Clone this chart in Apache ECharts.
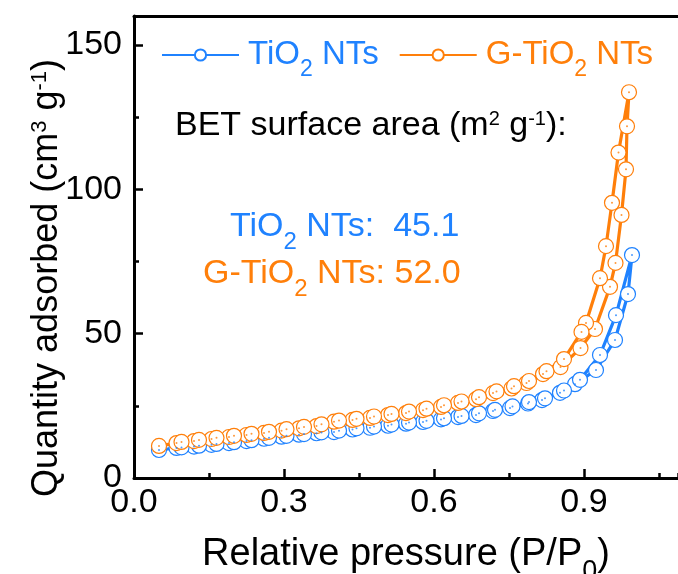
<!DOCTYPE html>
<html>
<head>
<meta charset="utf-8">
<script src="https://cdn.jsdelivr.net/npm/echarts@6/dist/echarts.min.js"></script>
<style>
html,body{margin:0;padding:0;background:#fff;}
#chart{width:678px;height:574px;}
</style>
</head>
<body>
<div id="chart"></div>
<script>
// ---- data (relative pressure P/P0, quantity adsorbed cm3/g) ----
var tio2AdsP = [0.05,0.085,0.12,0.155,0.19,0.225,0.26,0.295,0.33,0.365,0.40,0.437,0.472,0.508,0.544,0.578,0.614,0.648,0.684,0.718,0.752,0.788,0.816,0.852,0.882,0.924,0.962,0.988,0.996];
var tio2AdsV = [9.7,10.4,10.9,11.5,12.1,12.8,13.6,14.3,15.0,15.5,15.9,16.8,17.4,18.1,18.8,19.4,20.3,21.1,21.8,23.2,24.2,25.8,27.0,29.5,32.5,37.4,47.8,63.7,77.2];
var tio2DesP = [0.964,0.932,0.892,0.86,0.822,0.79,0.757,0.722,0.69,0.655,0.62,0.585,0.55,0.515,0.48,0.445,0.41,0.375,0.34,0.305,0.27,0.235,0.2,0.165,0.13,0.095];
var tio2DesV = [56.4,42.6,34.0,30.3,27.6,26.3,24.8,23.6,22.4,21.5,20.7,19.8,19.2,18.5,17.8,17.2,16.4,15.8,15.2,14.6,13.9,13.1,12.4,11.8,11.2,10.6];

var gAdsP = [0.05,0.085,0.12,0.155,0.19,0.225,0.26,0.295,0.33,0.365,0.40,0.437,0.472,0.508,0.544,0.578,0.614,0.648,0.684,0.718,0.755,0.785,0.818,0.853,0.893,0.922,0.952,0.963,0.975,0.984,0.986,0.99];
var gAdsV = [11.1,12.1,12.8,13.5,14.2,14.9,15.6,16.4,17.2,18.0,19.5,20.1,20.8,21.8,22.5,23.5,24.6,26.0,27.3,29.4,31.0,32.9,36.0,38.4,45.0,51.6,66.2,74.5,91.1,106.9,121.8,133.6];
var gDesP = [0.969,0.956,0.944,0.932,0.904,0.895,0.86,0.825,0.79,0.76,0.725,0.69,0.655,0.62,0.585,0.55,0.515,0.48,0.445,0.41,0.375,0.34,0.305,0.27,0.235,0.2,0.165,0.13,0.095];
var gDesV = [112.7,95.3,80.3,69.2,53.7,50.6,41.2,37.0,33.6,31.8,30.0,28.0,26.5,25.2,24.0,23.0,22.2,21.3,20.5,19.9,18.6,17.7,16.9,16.0,15.3,14.6,13.9,13.2,12.5];

var seriesNames = ['TiO2 NTs', 'G-TiO2 NTs'];
var xTicks = [0, 0.3, 0.6, 0.9];
var yTicks = [0, 50, 100, 150];
var betLabel = 'BET surface area';
var betValues = ['45.1', '52.0'];

var BLUE = '#1F82FF';
var ORANGE = '#FF7F0A';
var FONT = '"Liberation Sans", Arial, sans-serif';

function pairs(ps, vs) { return ps.map(function (p, i) { return [p, vs[i]]; }); }
var tio2Data = pairs(tio2AdsP, tio2AdsV).concat(pairs(tio2DesP, tio2DesV));
var gData = pairs(gAdsP, gAdsV).concat(pairs(gDesP, gDesV));

// rich styles; 'color' for echarts components, 'fill' for zrender graphics
// sub/sup shifted with asymmetric padding (middle-aligned token moves by padding/2)
function richSet(color, size, useFill) {
  var ck = useFill ? 'fill' : 'color';
  var r = {
    a: {fontSize: size, fontFamily: FONT, lineHeight: 42},
    p: {fontSize: size, fontFamily: FONT, lineHeight: 42, padding: [0, 0, 0, 4]},
    sub: {fontSize: Math.round(size * 0.7), fontFamily: FONT, lineHeight: 10,
          padding: [Math.round(size * 0.88), 0, 0, 0]},
    sup: {fontSize: Math.round(size * 0.6), fontFamily: FONT, lineHeight: 10,
          padding: [0, 0, Math.round(size * 0.42), 0]}
  };
  for (var k in r) r[k][ck] = color;
  return r;
}
function mergeRich() {
  var out = {};
  for (var i = 0; i < arguments.length; i++) {
    var prefix = arguments[i][0], set = arguments[i][1];
    for (var k in set) out[prefix + k] = set[k];
  }
  return out;
}

var chart = echarts.init(document.getElementById('chart'), null, {renderer: 'canvas'});

function lineSeries(name, color, data) {
  return {
    name: name, type: 'line', data: data,
    symbol: 'circle', symbolSize: 15, showSymbol: true,
    color: color,
    lineStyle: {color: color, width: 3.2},
    itemStyle: {color: '#fff', borderColor: color, borderWidth: 1.2},
    z: 3
  };
}
function dotSeries(name, color, data) {
  return {
    name: name + ' dot', type: 'scatter', data: data,
    symbol: 'circle', symbolSize: 2, silent: true,
    itemStyle: {color: color, opacity: 0.8}, z: 4
  };
}

var X_MAX = 1.088;
var Y_MAX = 160;

var option = {
  animation: false,
  backgroundColor: '#fff',
  grid: {left: 134, top: 16, right: 0, bottom: 96, show: false, containLabel: false, outerBoundsMode: 'none'},
  legend: {
    left: 161, top: 29, padding: 0,
    itemWidth: 77, itemHeight: 14, itemGap: 20,
    data: seriesNames,
    formatter: function (name) {
      if (name === seriesNames[0]) return '{bp|TiO}{bsub|2}{ba| NTs}';
      return '{op|G-TiO}{osub|2}{oa| NTs}';
    },
    textStyle: {
      rich: mergeRich(['b', richSet(BLUE, 33)], ['o', richSet(ORANGE, 33)])
    }
  },
  xAxis: [{
    type: 'value', min: 0, max: X_MAX, interval: 0.3,
    name: '{a|Relative pressure (P/P}{sub|0}{a|)}',
    nameLocation: 'middle', nameGap: 41,
    nameTextStyle: {rich: richSet('#000', 38)},
    axisLine: {show: true, lineStyle: {color: '#000', width: 3}},
    axisTick: {show: true, inside: true, length: 9, lineStyle: {color: '#000', width: 2.5}},
    axisLabel: {
      show: true, margin: 8, color: '#000', fontSize: 34, fontFamily: FONT, showMaxLabel: false,
      formatter: function (v) { return xTicks.indexOf(Math.round(v * 10) / 10) >= 0 ? v.toFixed(1) : ''; }
    },
    splitLine: {show: false}
  }, {
    type: 'value', min: 0, max: X_MAX, interval: 0.15, position: 'bottom',
    axisLine: {show: false},
    axisTick: {show: true, inside: true, length: 5, lineStyle: {color: '#000', width: 2.5}},
    axisLabel: {show: false},
    splitLine: {show: false}
  }, {
    type: 'value', min: 0, max: X_MAX, position: 'top',
    axisLine: {show: true, lineStyle: {color: '#000', width: 3}},
    axisTick: {show: false},
    axisLabel: {show: false},
    splitLine: {show: false}
  }],
  yAxis: [{
    type: 'value', min: 0, max: Y_MAX, interval: 50,
    axisLine: {show: true, lineStyle: {color: '#000', width: 3}},
    axisTick: {show: true, inside: true, length: 9, lineStyle: {color: '#000', width: 2.5}},
    axisLabel: {
      show: true, margin: 12, color: '#000', fontSize: 34, fontFamily: FONT, showMaxLabel: false,
      formatter: function (v) { return yTicks.indexOf(v) >= 0 ? String(v) : ''; }
    },
    splitLine: {show: false}
  }, {
    type: 'value', min: 0, max: Y_MAX, interval: 25, position: 'left',
    axisLine: {show: false},
    axisTick: {show: true, inside: true, length: 5, lineStyle: {color: '#000', width: 2.5}},
    axisLabel: {show: false},
    splitLine: {show: false}
  }],
  graphic: [
    {type: 'text', x: 47, y: 278, rotation: Math.PI / 2, z: 10, style: {
      text: '{a|Quantity adsorbed (cm}{sup|3}{a| g}{sup|-1}{a|)}',
      rich: richSet('#000', 36, true), align: 'center', verticalAlign: 'middle'
    }},
    {type: 'text', x: 175, y: 126, z: 10, style: {
      text: '{a|' + betLabel + ' (m}{sup|2}{a| g}{sup|-1}{a|):}',
      rich: richSet('#000', 34, true), align: 'left', verticalAlign: 'middle'
    }},
    {type: 'text', x: 230, y: 227, z: 10, style: {
      text: '{a|TiO}{sub|2}{a| NTs:  ' + betValues[0] + '}',
      rich: richSet(BLUE, 34, true), align: 'left', verticalAlign: 'middle'
    }},
    {type: 'text', x: 203, y: 274, z: 10, style: {
      text: '{a|G-TiO}{sub|2}{a| NTs: ' + betValues[1] + '}',
      rich: richSet(ORANGE, 34, true), align: 'left', verticalAlign: 'middle'
    }}
  ],
  series: [
    lineSeries(seriesNames[0], BLUE, tio2Data),
    dotSeries(seriesNames[0], BLUE, tio2Data),
    lineSeries(seriesNames[1], ORANGE, gData),
    dotSeries(seriesNames[1], ORANGE, gData)
  ]
};
chart.setOption(option);
</script>
</body>
</html>
